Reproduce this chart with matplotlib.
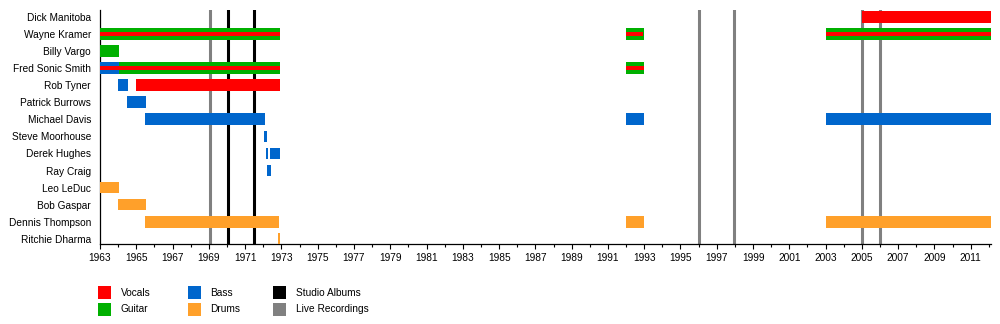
import matplotlib
matplotlib.use("Agg")
import matplotlib.pyplot as plt
from matplotlib.patches import Rectangle
from matplotlib.ticker import MultipleLocator

plt.rcParams['font.family'] = ['Liberation Sans', 'DejaVu Sans']

END = 2012.1

members = ["Dick Manitoba", "Wayne Kramer", "Billy Vargo", "Fred Sonic Smith",
           "Rob Tyner", "Patrick Burrows", "Michael Davis", "Steve Moorhouse",
           "Derek Hughes", "Ray Craig", "Leo LeDuc", "Bob Gaspar",
           "Dennis Thompson", "Ritchie Dharma"]

vocals = [("Dick Manitoba", 2005.0, END),
          ("Wayne Kramer", 1963.0, 1972.91),
          ("Wayne Kramer", 1992.0, 1992.95),
          ("Wayne Kramer", 2003.0, END),
          ("Fred Sonic Smith", 1963.0, 1972.91),
          ("Fred Sonic Smith", 1992.0, 1993.0),
          ("Rob Tyner", 1964.97, 1972.91)]

guitar = [("Wayne Kramer", 1963.0, 1972.91),
          ("Wayne Kramer", 1992.0, 1993.0),
          ("Wayne Kramer", 2003.0, END),
          ("Billy Vargo", 1963.0, 1964.03),
          ("Fred Sonic Smith", 1964.03, 1972.91),
          ("Fred Sonic Smith", 1992.0, 1993.0)]

bass = [("Fred Sonic Smith", 1963.0, 1964.03),
        ("Rob Tyner", 1963.98, 1964.53),
        ("Patrick Burrows", 1964.47, 1965.52),
        ("Michael Davis", 1965.47, 1972.08),
        ("Michael Davis", 1992.0, 1993.0),
        ("Michael Davis", 2003.0, END),
        ("Steve Moorhouse", 1972.03, 1972.19),
        ("Derek Hughes", 1972.14, 1972.25),
        ("Derek Hughes", 1972.36, 1972.91),
        ("Ray Craig", 1972.19, 1972.41)]

drums = [("Leo LeDuc", 1963.0, 1964.03),
         ("Bob Gaspar", 1963.98, 1965.52),
         ("Dennis Thompson", 1965.47, 1972.85),
         ("Dennis Thompson", 1992.0, 1993.0),
         ("Dennis Thompson", 2003.0, END),
         ("Ritchie Dharma", 1972.8, 1972.91)]

studio_albums = [1970.04, 1971.48]
live_recordings = [1969.05, 1996.0, 1997.95, 2005.0, 2006.0]

C_VOC = "#ff0000"
C_GTR = "#00b000"
C_BASS = "#0066cc"
C_DRUM = "#ffa02a"
C_STUDIO = "#000000"
C_LIVE = "#808080"

fig = plt.figure(figsize=(10, 3.24), dpi=100)
ax = fig.add_axes([0.1, 1 - 244.3 / 324, 0.8907, (244.3 - 10) / 324])

row = {m: i for i, m in enumerate(members)}
H = 0.68

instrument_sets = [(guitar, C_GTR), (bass, C_BASS), (drums, C_DRUM)]
for data, col in instrument_sets:
    for m, s, e in data:
        ax.barh(row[m], e - s, left=s, height=H, color=col, linewidth=0, zorder=3)

all_instr = guitar + bass + drums
for m, s, e in vocals:
    overlap = any(mm == m and ss < e and ee > s for mm, ss, ee in all_instr)
    h = H / 3 if overlap else H
    ax.barh(row[m], e - s, left=s, height=h, color=C_VOC, linewidth=0, zorder=4)

for x in studio_albums:
    ax.axvline(x, color=C_STUDIO, linewidth=2.2, zorder=2)
for x in live_recordings:
    ax.axvline(x, color=C_LIVE, linewidth=2.2, zorder=2)

ax.set_xlim(1963, END)
ax.set_ylim(13.32, -0.40)
ax.set_yticks(range(len(members)))
ax.set_yticklabels(members, fontsize=7.3)
ax.tick_params(axis='y', length=0, pad=6.5)

ax.xaxis.set_major_locator(MultipleLocator(2))
ax.xaxis.set_minor_locator(MultipleLocator(1))
ax.set_xticks(list(range(1963, 2012, 2)))
ax.tick_params(axis='x', which='major', length=3.6, width=0.8, labelsize=7.3, pad=2.5)
ax.tick_params(axis='x', which='minor', length=2.0, width=0.8)

for side in ['top', 'right']:
    ax.spines[side].set_visible(False)
for side in ['left', 'bottom']:
    ax.spines[side].set_linewidth(0.9)

# legend
legend_items = [("Vocals", C_VOC, 98, 286), ("Guitar", C_GTR, 98, 303),
                ("Bass", C_BASS, 188, 286), ("Drums", C_DRUM, 188, 303),
                ("Studio Albums", C_STUDIO, 273, 286), ("Live Recordings", C_LIVE, 273, 303)]
W, HH = 1000.0, 324.0
for label, col, px, py in legend_items:
    fig.patches.append(Rectangle((px / W, 1 - (py + 13) / HH), 12.5 / W, 13 / HH,
                                 transform=fig.transFigure, color=col, linewidth=0))
    fig.text((px + 22.5) / W, 1 - (py + 6.5) / HH, label, fontsize=7.3,
             va='center', ha='left')

fig.savefig("out.png", dpi=100)
